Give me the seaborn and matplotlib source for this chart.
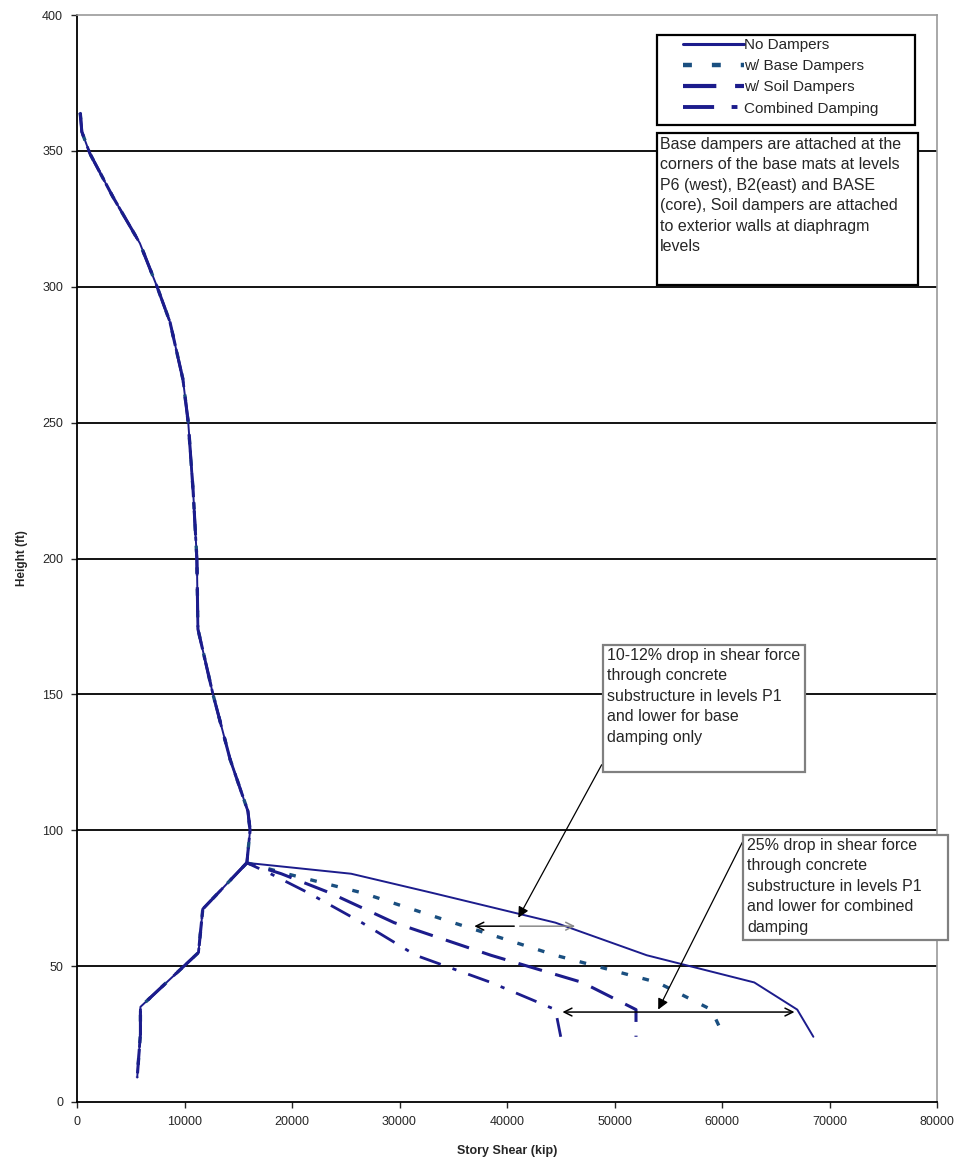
import pandas as pd
import matplotlib
matplotlib.use("Agg")
import matplotlib.pyplot as plt
import seaborn as sns
from matplotlib.patches import Rectangle
from matplotlib.lines import Line2D

sns.set_style("white")
plt.rcParams['font.family'] = ['Liberation Sans', 'DejaVu Sans']

# --- data ---
# common upper part (above grade), same for every series
upper_height = [364, 357, 349, 333, 316, 300, 287, 266, 250, 225, 200, 174, 150, 126, 107, 100, 88]
upper_shear = [300, 450, 1200, 3350, 5850, 7450, 8650, 9850, 10350, 10800, 11150, 11250,
               12650, 14250, 15900, 16100, 15800]

# common lower-left segment
left_height = [88, 71, 55, 35, 25, 9]
left_shear = [15800, 11700, 11300, 5900, 5900, 5600]

# substructure branch
sub_height = [88, 84, 77, 66, 54, 44, 34, 24]
no_dampers = [15800, 25500, 33000, 44500, 53000, 63000, 67000, 68500]
base_dampers = [15800, 19500, 26500, 35000, 44500, 54000, 59000, 60200]
soil_dampers = [15800, 19000, 23500, 29500, 38500, 47000, 52000, 52000]
combined = [15800, 18000, 21500, 26500, 31500, 38500, 44500, 45000]

series_names = ["No Dampers", "w/ Base Dampers", "w/ Soil Dampers", "Combined Damping"]
branch_values = [no_dampers, base_dampers, soil_dampers, combined]

rows = []
for name, branch in zip(series_names, branch_values):
    for h, s in zip(upper_height + sub_height[1:], upper_shear + branch[1:]):
        rows.append({"series": name, "seg": 0, "height": h, "shear": s})
    for h, s in zip(left_height, left_shear):
        rows.append({"series": name, "seg": 1, "height": h, "shear": s})
df = pd.DataFrame(rows)

colors = {"No Dampers": "#1c1c8c", "w/ Base Dampers": "#1a4f80",
          "w/ Soil Dampers": "#1c1c8c", "Combined Damping": "#1c1c8c"}
widths = {"No Dampers": 1.4, "w/ Base Dampers": 2.4,
          "w/ Soil Dampers": 2.2, "Combined Damping": 2.0}
dashes = {"No Dampers": (None, None), "w/ Base Dampers": (2.0, 4.5),
          "w/ Soil Dampers": (8, 4.5), "Combined Damping": (8, 4.5, 1.5, 4.5)}

fig = plt.figure(figsize=(9.6, 11.63), dpi=100)
W, H = 960, 1163
ax = fig.add_axes([77 / W, 1 - 1102 / H, (937 - 77) / W, (1102 - 15) / H])

for name in series_names:
    d = df[df.series == name]
    for seg, g in d.groupby("seg"):
        sns.lineplot(data=g, x="shear", y="height", sort=False, estimator=None,
                     color=colors[name], lw=widths[name], ax=ax, legend=False)
        l = ax.lines[-1]
        if dashes[name][0] is not None:
            l.set_dashes(dashes[name])

ax.set_xlim(0, 80000)
ax.set_ylim(0, 400)
ax.set_xticks(range(0, 80001, 10000))
ax.set_yticks(range(0, 401, 50))
ax.tick_params(axis='both', labelsize=9, length=4, width=1, direction='out',
               bottom=True, left=True, pad=6)
for y in range(50, 400, 50):
    ax.axhline(y, color='black', lw=1.3, zorder=0)
for sp in ['left', 'bottom']:
    ax.spines[sp].set_color('black')
    ax.spines[sp].set_linewidth(1.3)
for sp in ['top', 'right']:
    ax.spines[sp].set_color('#9a9a9a')
    ax.spines[sp].set_linewidth(1.2)
ax.set_xlabel("Story Shear (kip)", fontsize=9, fontweight='bold', labelpad=12)
ax.set_ylabel("Height (ft)", fontsize=8.5, fontweight='bold', labelpad=10)


def box(x0, y0, x1, y1, edge, text=None, tx=0, ty=0):
    r = Rectangle((x0 / W, 1 - y1 / H), (x1 - x0) / W, (y1 - y0) / H,
                  transform=fig.transFigure, facecolor='white', edgecolor=edge,
                  lw=1.6, zorder=5, clip_on=False)
    fig.add_artist(r)
    if text:
        fig.text(tx / W, 1 - ty / H, text, fontsize=11.5, va='top', ha='left',
                 linespacing=1.45, zorder=6)


# legend box drawn by hand, legend itself without frame
box(657, 35, 915, 125, 'black')
handles = [Line2D([], [], color=colors[n], lw=widths[n] + 0.8,
                  dashes=dashes[n] if dashes[n][0] is not None else (None, None))
           for n in series_names]
leg = fig.legend(handles, series_names, loc='upper left',
                 bbox_to_anchor=(683 / W, 1 - 38 / H), bbox_transform=fig.transFigure,
                 fontsize=11, handlelength=4.0, handletextpad=0.0, labelspacing=0.47,
                 borderpad=0, frameon=False, borderaxespad=0)
leg.set_zorder(7)

box(657, 133, 918, 285, 'black',
    "Base dampers are attached at the\ncorners of the base mats at levels\n"
    "P6 (west), B2(east) and BASE\n(core), Soil dampers are attached\n"
    "to exterior walls at diaphragm\nlevels", 660, 137)

# arrows
ax.annotate("", xy=(40930, 66.9), xytext=(48930, 125),
            arrowprops=dict(arrowstyle='-|>', color='black', lw=0.9, mutation_scale=16))
ax.annotate("", xy=(36700, 64.7), xytext=(40930, 64.7),
            arrowprops=dict(arrowstyle='->', color='black', lw=1.1, mutation_scale=14))
ax.annotate("", xy=(46600, 64.7), xytext=(40930, 64.7),
            arrowprops=dict(arrowstyle='->', color='#8a8a8a', lw=1.1, mutation_scale=14))
ax.annotate("", xy=(53950, 33.1), xytext=(62140, 97.5),
            arrowprops=dict(arrowstyle='-|>', color='black', lw=0.9, mutation_scale=16))
ax.annotate("", xy=(44900, 33.1), xytext=(67000, 33.1),
            arrowprops=dict(arrowstyle='<->', color='black', lw=1.1, mutation_scale=14))

box(603, 645, 805, 772, '#808080',
    "10-12% drop in shear force\nthrough concrete\nsubstructure in levels P1\n"
    "and lower for base\ndamping only", 607, 648)
box(743, 835, 948, 940, '#808080',
    "25% drop in shear force\nthrough concrete\nsubstructure in levels P1\n"
    "and lower for combined\ndamping", 747, 838)

fig.savefig("out.png", dpi=100)
